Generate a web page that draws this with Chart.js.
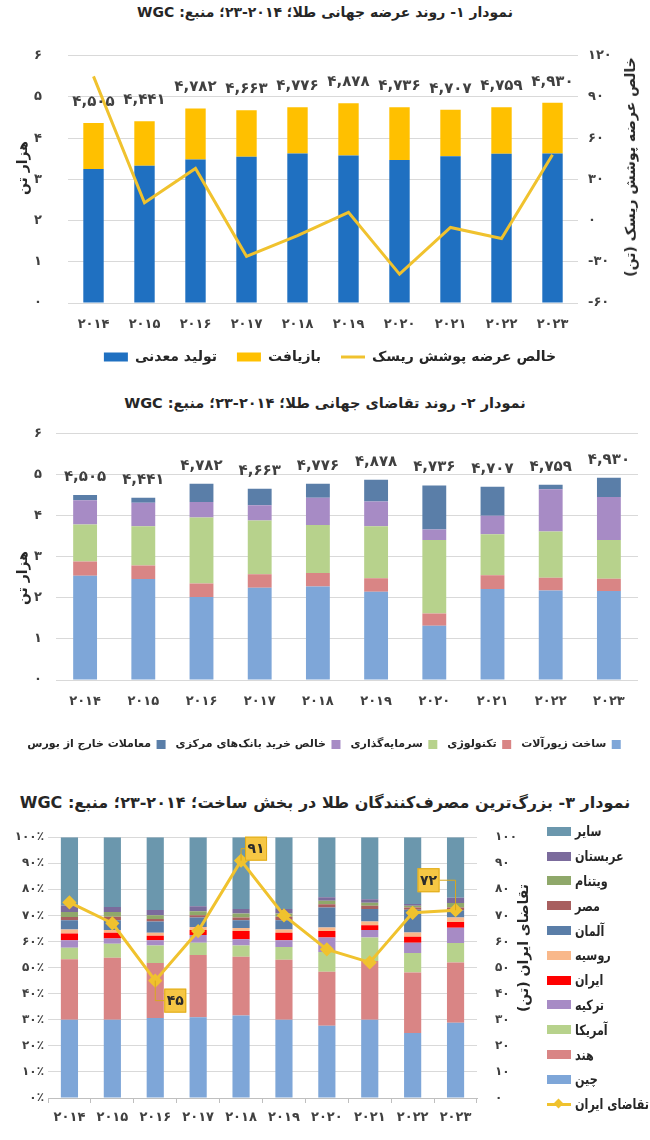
<!DOCTYPE html>
<html lang="fa">
<head>
<meta charset="utf-8">
<title>WGC gold charts</title>
<script src="https://cdn.jsdelivr.net/npm/chart.js@4.4.1/dist/chart.umd.min.js"></script>
<style>
  html, body { margin: 0; padding: 0; background: #fff; }
  body { width: 650px; height: 1140px; position: relative; overflow: hidden; font-family: 'DejaVu Sans', sans-serif; color: #262626; }
  .title { position: absolute; left: 0; width: 650px; height: 20px; line-height: 20px; text-align: center; direction: rtl; font-weight: bold; font-size: 16px; }
  canvas { position: absolute; left: 0; }
  .vtitle { position: absolute; white-space: nowrap; direction: rtl; font-weight: bold; font-size: 14px; color: #262626; transform: translate(-50%, -50%) rotate(-90deg); }
  #legend3 { position: absolute; left: 547px; top: 819px; width: 103px; }
  .lg-item { height: 24.8px; display: flex; align-items: center; font-weight: bold; font-size: 14px; white-space: nowrap; }
  .lg-item span.txt { display: inline-block; transform: scaleX(0.8); transform-origin: left center; }
  .lg-box { width: 24px; height: 9px; margin-right: 4px; flex: none; }
  .lg-line { width: 24px; height: 3px; margin-right: 4px; flex: none; position: relative; }
  .lg-line span { position: absolute; left: 8px; top: -3px; width: 7px; height: 7px; transform: rotate(45deg); }
</style>
</head>
<body>

<div class="title" style="top:2px; font-size:14px">نمودار ۱- روند عرضه جهانی طلا؛ ۲۰۱۴-۲۳؛ منبع: WGC</div>
<canvas id="supplyChart" width="650" height="360" style="top:22px"></canvas>
<div class="vtitle" style="left:22px; top:168px">هزار تن</div>
<div class="vtitle" style="left:630px; top:167px">خالص عرضه پوشش ریسک (تن)</div>

<div class="title" style="top:393px; font-size:14.5px">نمودار ۲- روند تقاضای جهانی طلا؛ ۲۰۱۴-۲۳؛ منبع: WGC</div>
<canvas id="demandChart" width="650" height="350" style="top:412px"></canvas>
<div class="vtitle" style="left:22px; top:578px">هزار تن</div>

<div class="title" style="top:793px">نمودار ۳- بزرگ‌ترین مصرف‌کنندگان طلا در بخش ساخت؛ ۲۰۱۴-۲۳؛ منبع: WGC</div>
<canvas id="jewelryChart" width="540" height="328" style="top:812px"></canvas>
<div class="vtitle" style="left:523px; top:948px">تقاضای ایران (تن)</div>
<div id="legend3"></div>

<script>
// ---- data ----
const years = ['2014', '2015', '2016', '2017', '2018', '2019', '2020', '2021', '2022', '2023'];

// chart 1: supply (thousand tonnes, hedging in tonnes)
const supplyMine = [3.25, 3.33, 3.48, 3.55, 3.63, 3.58, 3.47, 3.56, 3.62, 3.63];
const supplyRecycling = [1.12, 1.08, 1.24, 1.13, 1.12, 1.27, 1.28, 1.13, 1.13, 1.23];
const supplyHedging = [105, 13, 38, -26, -11, 6, -39, -5, -13, 48];
const supplyTotals = [4505, 4441, 4782, 4663, 4776, 4878, 4736, 4707, 4759, 4930];

// chart 2: demand (thousand tonnes)
const demandJewelry = [2.54, 2.46, 2.02, 2.25, 2.28, 2.15, 1.32, 2.22, 2.18, 2.17];
const demandTech = [0.35, 0.33, 0.33, 0.33, 0.33, 0.33, 0.30, 0.33, 0.31, 0.30];
const demandInvest = [0.90, 0.96, 1.61, 1.31, 1.17, 1.27, 1.79, 1.00, 1.13, 0.94];
const demandCentralBanks = [0.59, 0.57, 0.38, 0.37, 0.66, 0.60, 0.26, 0.45, 1.03, 1.05];
const demandOtc = [0.13, 0.12, 0.44, 0.40, 0.34, 0.53, 1.07, 0.71, 0.11, 0.47];
const demandTotals = [4505, 4441, 4782, 4663, 4776, 4878, 4736, 4707, 4759, 4930];

// chart 3: share of jewellery fabrication (%), Iran demand (tonnes)
const shareChina   = [30.0, 30.0, 30.7, 31.0, 31.6, 30.0, 27.7, 30.0, 24.9, 28.9];
const shareIndia   = [23.2, 23.8, 21.1, 23.8, 22.6, 23.0, 20.7, 22.5, 23.2, 23.1];
const shareUsa     = [4.4, 5.3, 6.7, 4.7, 4.3, 4.9, 7.6, 9.0, 7.5, 7.4];
const shareTurkey  = [2.9, 2.1, 2.0, 3.0, 2.4, 2.6, 5.5, 2.9, 3.9, 5.9];
const shareIran    = [2.6, 2.2, 1.7, 1.9, 3.1, 2.9, 2.5, 1.8, 2.3, 2.2];
const shareRussia  = [1.5, 1.0, 1.2, 1.2, 1.2, 1.2, 1.4, 1.5, 1.7, 1.7];
const shareGermany = [3.6, 3.8, 4.3, 3.6, 3.0, 3.6, 7.6, 4.8, 8.7, 2.8];
const shareEgypt   = [1.2, 1.3, 0.9, 0.9, 1.0, 1.3, 1.3, 1.2, 0.8, 1.0];
const shareVietnam = [1.9, 1.8, 1.5, 1.5, 1.5, 1.2, 1.3, 1.2, 0.7, 1.8];
const shareSaudi   = [2.5, 1.9, 2.0, 1.9, 1.8, 1.8, 1.4, 1.3, 0.7, 2.0];
const shareOther   = [26.2, 26.8, 27.9, 26.5, 27.5, 27.5, 23.0, 23.8, 25.6, 23.2];
const iranDemand   = [75, 67, 45, 64, 91, 70, 57, 52, 71, 72];

const consumerNames = ['چین', 'هند', 'آمریکا', 'ترکیه', 'ایران', 'روسیه', 'آلمان', 'مصر', 'ویتنام', 'عربستان', 'سایر'];
const consumerShares = [shareChina, shareIndia, shareUsa, shareTurkey, shareIran, shareRussia,
                        shareGermany, shareEgypt, shareVietnam, shareSaudi, shareOther];

// ---- styles ----
const consumerColors = ['#7ea6d8', '#d98585', '#b7d28c', '#a78bc5', '#ff0000', '#f9b88a',
                        '#5a7ea8', '#a85f5f', '#8fa86a', '#7b6b9c', '#6b97ad'];
const gold = '#f0c22e';
const gridColor = '#d9d9d9';

// ---- helpers ----
const faDigits = ['۰', '۱', '۲', '۳', '۴', '۵', '۶', '۷', '۸', '۹'];
function fa(v) {
    return String(v).replace(/[0-9]/g, d => faDigits[+d]);
}
function faThousands(v) {
    return fa(String(v).replace(/\B(?=(\d{3})+(?!\d))/g, ','));
}
function fixedWidth(w) { return s => { s.width = w; }; }
function fixedHeight(h) { return s => { s.height = h; }; }

Chart.defaults.font.family = "'DejaVu Sans', sans-serif";
Chart.defaults.font.weight = 'bold';
Chart.defaults.font.size = 13;
Chart.defaults.color = '#404040';
Chart.defaults.animation = false;
Chart.defaults.plugins.tooltip.enabled = false;

// total above each stacked bar
const totalLabels = {
    id: 'totalLabels',
    afterDatasetsDraw(chart, args, opts) {
        if (!opts.values) return;
        const ctx = chart.ctx;
        const meta = chart.getDatasetMeta(opts.topDataset);
        ctx.save();
        ctx.font = 'bold 15px "DejaVu Sans"';
        ctx.fillStyle = '#404040';
        ctx.textAlign = 'center';
        ctx.textBaseline = 'middle';
        opts.values.forEach((v, i) => {
            const bar = meta.data[i];
            ctx.fillText(faThousands(v), bar.x, bar.y - opts.offset);
        });
        ctx.restore();
    }
};

// boxed value callouts on the Iran line
const callouts = {
    id: 'callouts',
    afterDatasetsDraw(chart, args, opts) {
        if (!opts.items) return;
        const ctx = chart.ctx;
        const meta = chart.getDatasetMeta(opts.datasetIndex);
        const w = 22, h = 24;
        ctx.save();
        opts.items.forEach(it => {
            const pt = meta.data[it.index];
            const bx = pt.x + it.dx, by = pt.y + it.dy;
            const edge = it.dx > 0 ? bx - w / 2 : bx + w / 2;
            ctx.strokeStyle = '#d9a81c';
            ctx.lineWidth = 1;
            ctx.beginPath();
            ctx.moveTo(pt.x, pt.y);
            ctx.lineTo(pt.x, by);
            ctx.lineTo(edge, by);
            ctx.stroke();
            ctx.fillStyle = '#f6c744';
            ctx.fillRect(bx - w / 2, by - h / 2, w, h);
            ctx.strokeStyle = '#e0ac1a';
            ctx.strokeRect(bx - w / 2 + 0.5, by - h / 2 + 0.5, w - 1, h - 1);
            ctx.fillStyle = '#2b2b2b';
            ctx.font = 'bold 14px "DejaVu Sans"';
            ctx.textAlign = 'center';
            ctx.textBaseline = 'middle';
            ctx.fillText(fa(opts.data[it.index]), bx, by + 1);
        });
        ctx.restore();
    }
};

function yearTick(v) { return fa(this.getLabelForValue(v)); }

// ---- chart 1: supply ----
new Chart(document.getElementById('supplyChart'), {
    type: 'bar',
    plugins: [totalLabels],
    data: {
        labels: years,
        datasets: [
            { label: 'تولید معدنی', data: supplyMine, backgroundColor: '#1f70c1', order: 1, barPercentage: 0.4, categoryPercentage: 1 },
            { label: 'بازیافت', data: supplyRecycling, backgroundColor: '#ffc000', order: 1, barPercentage: 0.4, categoryPercentage: 1 },
            { type: 'line', label: 'خالص عرضه پوشش ریسک', data: supplyHedging, yAxisID: 'y1',
              borderColor: gold, backgroundColor: gold, borderWidth: 3, pointRadius: 0, tension: 0, order: 0 }
        ]
    },
    options: {
        responsive: false,
        layout: { padding: { top: 21, left: 10, right: 0, bottom: 8 } },
        scales: {
            x: {
                stacked: true,
                grid: { display: false, drawTicks: false },
                border: { display: false },
                ticks: { padding: 14, callback: yearTick },
                afterFit: fixedHeight(27)
            },
            y: {
                stacked: true, min: 0, max: 6,
                grid: { color: gridColor, drawTicks: false },
                border: { display: false },
                ticks: { stepSize: 1, padding: 26, callback: v => fa(v) },
                afterFit: fixedWidth(58)
            },
            y1: {
                position: 'right', min: -60, max: 120,
                grid: { display: false, drawTicks: false },
                border: { display: false },
                ticks: { stepSize: 30, padding: 10, callback: v => fa(v) },
                afterFit: fixedWidth(72)
            }
        },
        plugins: {
            totalLabels: { values: supplyTotals, topDataset: 1, offset: 21 },
            legend: {
                position: 'bottom',
                labels: {
                    usePointStyle: true, pointStyleWidth: 24, boxHeight: 9, padding: 20,
                    color: '#262626', font: { size: 14 },
                    sort: (a, b) => a.datasetIndex - b.datasetIndex,
                    generateLabels(chart) {
                        const items = Chart.defaults.plugins.legend.labels.generateLabels(chart);
                        items.forEach(it => {
                            it.pointStyle = chart.data.datasets[it.datasetIndex].type === 'line' ? 'line' : 'rect';
                        });
                        return items;
                    }
                }
            }
        }
    }
});

// ---- chart 2: demand ----
const demandSeries = [
    { label: 'ساخت زیورآلات', data: demandJewelry, color: '#7ea6d8' },
    { label: 'تکنولوژی', data: demandTech, color: '#d98585' },
    { label: 'سرمایه‌گذاری', data: demandInvest, color: '#b7d28c' },
    { label: 'خالص خرید بانک‌های مرکزی', data: demandCentralBanks, color: '#a78bc5' },
    { label: 'معاملات خارج از بورس', data: demandOtc, color: '#5a7ea8' }
];

new Chart(document.getElementById('demandChart'), {
    type: 'bar',
    plugins: [totalLabels],
    data: {
        labels: years,
        datasets: demandSeries.map(s => ({
            label: s.label, data: s.data, backgroundColor: s.color,
            barPercentage: 0.41, categoryPercentage: 1
        }))
    },
    options: {
        responsive: false,
        layout: { padding: { top: 11, left: 10, right: 12, bottom: 2 } },
        scales: {
            x: {
                stacked: true,
                grid: { display: false, drawTicks: false },
                border: { display: false },
                ticks: { padding: 14, callback: yearTick },
                afterFit: fixedHeight(49)
            },
            y: {
                stacked: true, min: 0, max: 6,
                grid: { color: gridColor, drawTicks: false },
                border: { display: false },
                ticks: { stepSize: 1, padding: 14, callback: v => fa(v) },
                afterFit: fixedWidth(46)
            }
        },
        plugins: {
            totalLabels: { values: demandTotals, topDataset: 4, offset: 18 },
            legend: {
                position: 'bottom', rtl: true, textDirection: 'rtl',
                labels: { boxWidth: 9, boxHeight: 9, padding: 10, color: '#262626', font: { size: 11 } }
            }
        }
    }
});

// ---- chart 3: jewellery fabrication share ----
const shareDatasets = consumerNames.map((name, i) => ({
    label: name, data: consumerShares[i], backgroundColor: consumerColors[i],
    order: 1, barPercentage: 0.4, categoryPercentage: 1
}));
shareDatasets.push({
    type: 'line', label: 'تقاضای ایران', data: iranDemand, yAxisID: 'y1', order: 0,
    borderColor: gold, backgroundColor: gold, borderWidth: 3, tension: 0,
    pointStyle: 'rectRot', pointRadius: 5, pointBackgroundColor: gold, pointBorderColor: gold
});

new Chart(document.getElementById('jewelryChart'), {
    type: 'bar',
    plugins: [callouts],
    data: { labels: years, datasets: shareDatasets },
    options: {
        responsive: false,
        layout: { padding: { top: 13, left: 0, right: 0, bottom: 0 } },
        scales: {
            x: {
                stacked: true,
                grid: { display: true, drawOnChartArea: false, drawTicks: true, tickLength: 5, color: '#bfbfbf' },
                border: { display: true, color: '#bfbfbf' },
                ticks: { padding: 7, callback: yearTick },
                afterFit: fixedHeight(42)
            },
            y: {
                stacked: true, min: 0, max: 100,
                grid: { color: gridColor, drawTicks: false },
                border: { display: false },
                ticks: { stepSize: 10, padding: 4, font: { size: 12 }, callback: v => fa(v) + '٪' },
                afterFit: fixedWidth(48)
            },
            y1: {
                position: 'right', min: 0, max: 100,
                grid: { display: false, drawTicks: false },
                border: { display: false },
                ticks: { stepSize: 10, padding: 18, font: { size: 12 }, callback: v => fa(v) },
                afterFit: fixedWidth(63)
            }
        },
        plugins: {
            legend: { display: false },
            callouts: {
                datasetIndex: consumerNames.length,
                data: iranDemand,
                items: [
                    { index: 2, dx: 20, dy: 20 },
                    { index: 4, dx: 15, dy: -12 },
                    { index: 9, dx: -27, dy: -30 }
                ]
            }
        }
    }
});

// html legend for chart 3 (top item = last stack)
const legend3 = document.getElementById('legend3');
function legendRow(swatch, text) {
    const row = document.createElement('div');
    row.className = 'lg-item';
    row.appendChild(swatch);
    const t = document.createElement('span');
    t.className = 'txt';
    t.textContent = text;
    row.appendChild(t);
    legend3.appendChild(row);
}
for (let i = consumerNames.length - 1; i >= 0; i--) {
    const box = document.createElement('div');
    box.className = 'lg-box';
    box.style.background = consumerColors[i];
    legendRow(box, consumerNames[i]);
}
const lineSwatch = document.createElement('div');
lineSwatch.className = 'lg-line';
lineSwatch.style.background = gold;
const diamond = document.createElement('span');
diamond.style.background = gold;
lineSwatch.appendChild(diamond);
legendRow(lineSwatch, 'تقاضای ایران');
</script>
</body>
</html>
